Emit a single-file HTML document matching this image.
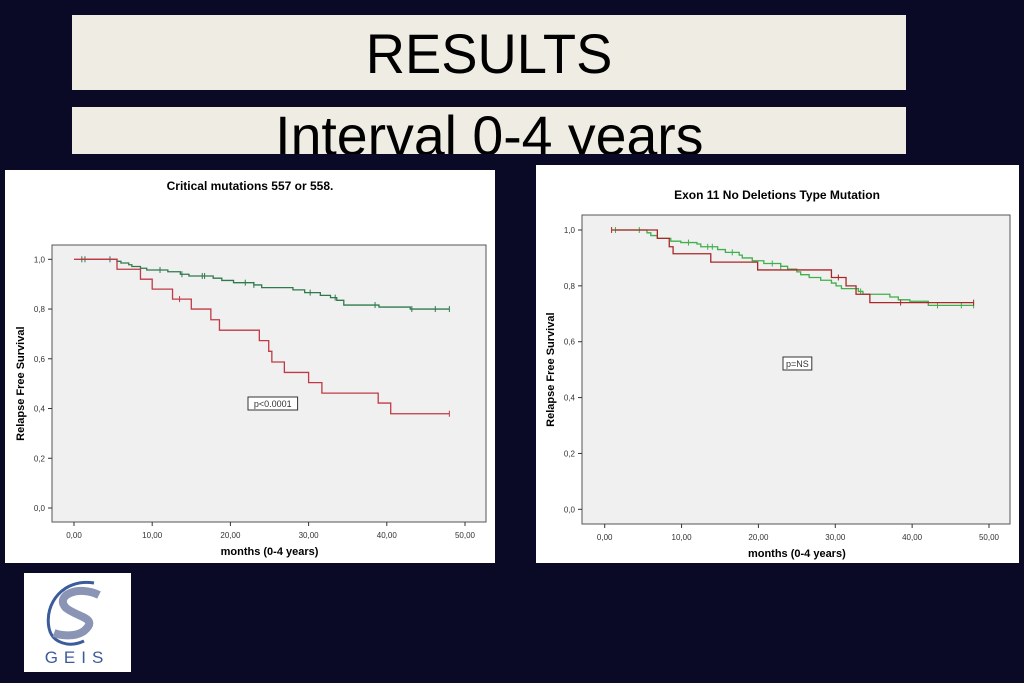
<!DOCTYPE html>
<html><head><meta charset="utf-8"><style>
html,body{margin:0;padding:0;width:1024px;height:683px;overflow:hidden;background:#0a0a26;font-family:"Liberation Sans",sans-serif}
.box{position:absolute;left:72px;width:834px;background:#efede3;text-align:center;color:#000;overflow:hidden}
.t{display:inline-block;transform-origin:center}
svg{position:absolute;left:0;top:0}
</style></head><body>
<div class="box" style="top:15px;height:75px"><span class="t" style="font-size:56px;line-height:78px;transform:scaleX(0.97)">RESULTS</span></div>
<div class="box" style="top:107px;height:47px"><span class="t" style="font-size:56px;line-height:58px;transform:scaleX(0.99)">Interval 0-4 years</span></div>
<div style="position:absolute;left:24px;top:573px;width:107px;height:99px;background:#fff">
<svg width="107" height="99" viewBox="0 0 107 99" style="position:static">
<path d="M70 10 C40 5 20 30 25 55 C28 70 45 75 60 68" stroke="#3b5b9a" stroke-width="3" fill="none"/>
<path d="M75 22 C55 12 30 22 42 35 C55 45 75 45 60 58 C50 65 35 62 30 60" stroke="#8a95b5" stroke-width="8" fill="none"/>
<text x="53" y="90" font-size="17" text-anchor="middle" fill="#3b5b9a" letter-spacing="6" font-family="Liberation Sans, sans-serif">GEIS</text>
</svg></div>
<svg id="s" width="1024" height="683"></svg>
<script>
// Left chart data (months, survival)
const leftRedT=[0,5.5,8.5,10,12.6,15,17.5,18.6,23.7,24.9,25.3,26.9,30,31.7,38.9,40.5];
const leftRedS=[1,0.96,0.92,0.88,0.84,0.80,0.757,0.715,0.673,0.63,0.587,0.545,0.504,0.462,0.422,0.379];
const leftRedCens=[13.5,48];
const leftGreenT=[0.9,5.5,6,7,7.4,8.5,9.3,12,13.6,14.7,17.8,18.9,20.4,23,24,28,29.5,31.5,32.8,33.6,34.5,39,43];
const leftGreenS=[1,0.992,0.985,0.978,0.971,0.964,0.957,0.95,0.94,0.933,0.924,0.915,0.906,0.897,0.886,0.877,0.866,0.855,0.846,0.835,0.816,0.808,0.80];
const leftGreenCens=[1,1.4,4.6,11,13.8,16.4,16.7,21.9,23,30.2,33.4,38.5,43.2,46.2,48];
// Right chart data
const rightRedT=[0.9,6.85,8.4,8.9,13.8,19.9,29.5,31.4,32.7,34.5];
const rightRedS=[1,0.97,0.94,0.915,0.885,0.857,0.83,0.80,0.77,0.74];
const rightRedCens=[0.9,30.4,38.5,48];
const rightGreenT=[1.4,5.5,6,6.85,8.6,9.9,12,12.5,14.7,15.7,17.5,17.9,19.2,20.7,22.9,23.8,25,25.5,26.6,28.1,29.5,30.1,30.8,33,33.6,37.1,38.2,39.7,42.1];
const rightGreenS=[1,0.99,0.98,0.97,0.96,0.955,0.95,0.94,0.93,0.92,0.91,0.90,0.89,0.88,0.87,0.86,0.85,0.84,0.83,0.82,0.81,0.80,0.79,0.78,0.77,0.76,0.75,0.745,0.73];
const rightGreenCens=[1.4,4.5,10.9,13.4,14,16.6,21.8,22.9,33.3,43.3,46.4,48];
const xTicks=[0,10,20,30,40,50];
const xTickLabels=["0,00","10,00","20,00","30,00","40,00","50,00"];
const yTicks=[0,0.2,0.4,0.6,0.8,1.0];
const yTickLabels=["0,0","0,2","0,4","0,6","0,8","1,0"];
const NS="http://www.w3.org/2000/svg";
const svg=document.getElementById('s');
function el(tag,attrs,parent,text){const e=document.createElementNS(NS,tag);for(const k in attrs)e.setAttribute(k,attrs[k]);if(text!==undefined)e.textContent=text;(parent||svg).appendChild(e);return e;}
function chart(cfg){
  const g=el('g',{});
  
  
  const p=el('rect',{x:cfg.px,y:cfg.py,width:cfg.pw,height:cfg.ph,fill:'#fff'},g);
  
  
  const a=el('rect',{x:cfg.ax,y:cfg.ay,width:cfg.aw,height:cfg.ah,fill:'#f0f0f0',stroke:'#555','stroke-width':1},g);
  
  
  const X=v=>cfg.x0+(cfg.x50-cfg.x0)*v/50;
  const Y=v=>cfg.y0+(cfg.y1-cfg.y0)*v;
  const t=el('text',{x:cfg.tx,y:cfg.ty,'font-size':12,'font-weight':'bold','text-anchor':'middle'},g,cfg.title);
  
  
  xTicks.forEach((v,i)=>{
    el('line',{x1:X(v),x2:X(v),y1:cfg.ay+cfg.ah,y2:cfg.ay+cfg.ah+4,stroke:'#333'},g);
    const l=el('text',{x:X(v),y:cfg.ay+cfg.ah+16,'font-size':8,'text-anchor':'middle',fill:'#333'},g,xTickLabels[i]);
    
    
  });
  yTicks.forEach((v,i)=>{
    el('line',{x1:cfg.ax-4,x2:cfg.ax,y1:Y(v),y2:Y(v),stroke:'#333'},g);
    const l=el('text',{x:cfg.ax-7,y:Y(v)+3,'font-size':8,'text-anchor':'end',fill:'#333'},g,yTickLabels[i]);
    
    
  });
  const xt=el('text',{x:(X(0)+X(50))/2,y:cfg.ay+cfg.ah+33,'font-size':11,'font-weight':'bold','text-anchor':'middle'},g,'months (0-4 years)');
  
  
  const yx=cfg.ax-28, yy=(Y(0)+Y(1))/2;
  const yt=el('text',{x:yx,y:yy,'font-size':11,'font-weight':'bold','text-anchor':'middle',transform:`rotate(-90 ${yx} ${yy})`},g,'Relapse Free Survival');
  
  
  cfg.series.forEach(s=>{
    let d=`M${X(s.t[0])},${Y(s.s[0])}`;
    for(let i=1;i<s.t.length;i++){d+=` H${X(s.t[i])} V${Y(s.s[i])}`;}
    d+=` H${X(48)}`;
    const path=el('path',{d:d,fill:'none',stroke:s.color,'stroke-width':1.3},g);
    
    
    s.c.forEach(c=>{
      let k=0;for(let i=0;i<s.t.length;i++){if(s.t[i]<=c)k=i;}
      const m=el('line',{x1:X(c),x2:X(c),y1:Y(s.s[k])-3,y2:Y(s.s[k])+3,stroke:s.color,'stroke-width':1},g);
      
      
    });
  });
  const bw=cfg.pl.length*5.2+8;
  const pb=el('rect',{x:cfg.plx,y:cfg.ply,width:bw,height:13,fill:'#fff',stroke:'#333'},g);
  
  
  const pt=el('text',{x:cfg.plx+bw/2,y:cfg.ply+10,'font-size':9,'text-anchor':'middle',fill:'#333'},g,cfg.pl);
  
  
}
chart({name:'left-km-chart',px:5,py:170,pw:490,ph:393,ax:52,ay:245,aw:434,ah:277,x0:74,x50:465,y0:508,y1:259.3,
  tx:250,ty:190,title:'Critical mutations 557 or 558.',pl:'p<0.0001',plx:248,ply:397,
  series:[{name:'green-curve',t:leftGreenT,s:leftGreenS,c:leftGreenCens,color:'#2f7a4c'},
          {name:'red-curve',t:leftRedT,s:leftRedS,c:leftRedCens,color:'#c03a45'}]});
chart({name:'right-km-chart',px:536,py:165,pw:483,ph:398,ax:582,ay:215,aw:428,ah:309,x0:604.7,x50:989,y0:509.3,y1:230,
  tx:777,ty:199,title:'Exon 11 No Deletions Type Mutation',pl:'p=NS',plx:783,ply:357,
  series:[{name:'green-curve',t:rightGreenT,s:rightGreenS,c:rightGreenCens,color:'#3fb04a'},
          {name:'red-curve',t:rightRedT,s:rightRedS,c:rightRedCens,color:'#a82828'}]});
</script>
</body></html>
